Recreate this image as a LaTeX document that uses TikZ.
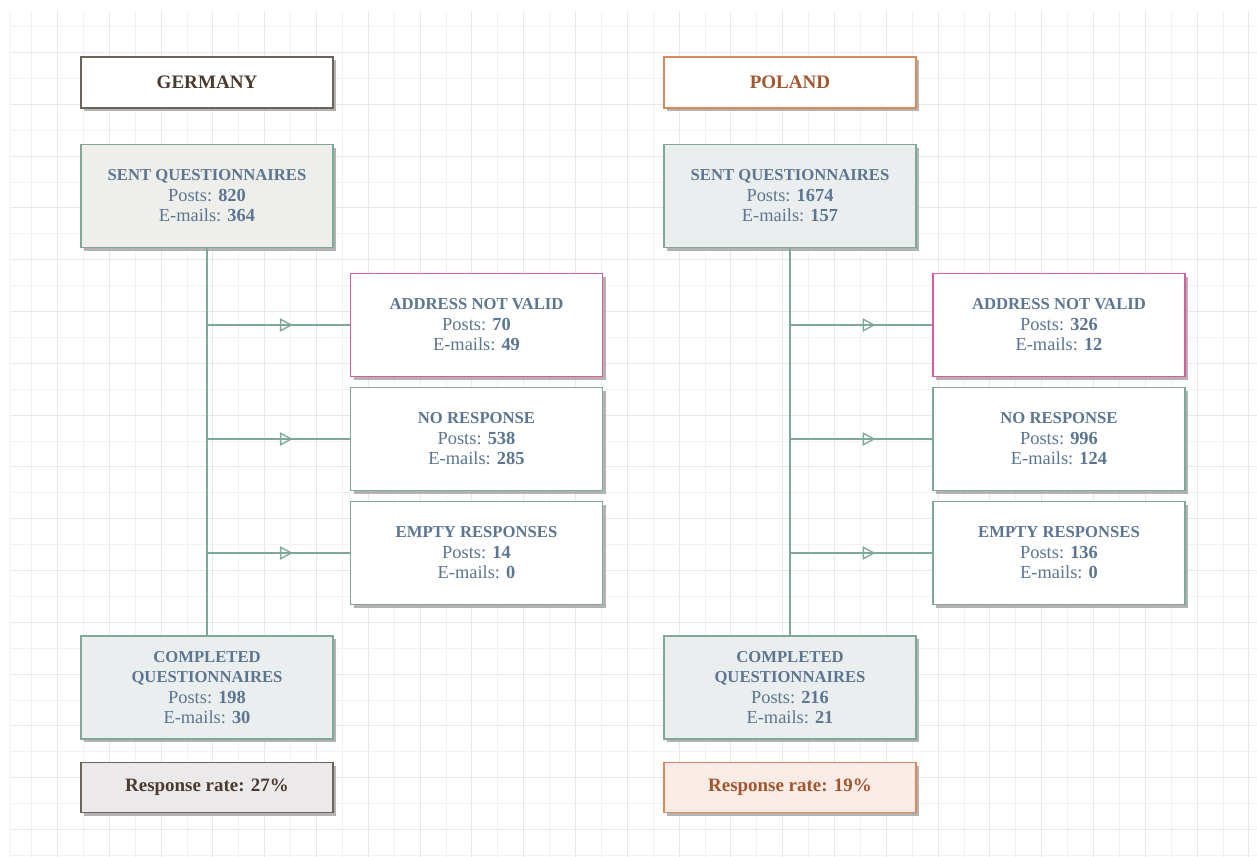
\documentclass[tikz,border=0pt]{standalone}
\usepackage{fontspec}
\setmainfont{Liberation Serif}
\usetikzlibrary{arrows.meta,decorations.markings,shadows}
\definecolor{gridlight}{HTML}{F2F2F2}
\definecolor{griddark}{HTML}{E8E8E8}
\definecolor{tealline}{HTML}{7FA89A}
\definecolor{slatetext}{HTML}{5B7592}
\definecolor{gerborder}{HTML}{6E625C}
\definecolor{gertext}{HTML}{4A3A30}
\definecolor{polborder}{HTML}{D98A5C}
\definecolor{poltext}{HTML}{A3562D}
\definecolor{pinkborder}{HTML}{D95A9E}
\definecolor{sentgerfill}{HTML}{EEEEEA}
\definecolor{sentpolfill}{HTML}{EBEEEE}
\definecolor{gerratefill}{HTML}{EBE9E9}
\definecolor{polratefill}{HTML}{F9EBE6}
\newcommand\boxtitle[1]{{\fontsize{12.5}{15.4}\selectfont\bfseries #1}}
\tikzset{
  sh/.style={drop shadow={shadow xshift=2.3pt, shadow yshift=-2.3pt, fill=black!33, opacity=0.9}},
  basebox/.style={rectangle, sh, line width=1.1pt, minimum width=189pt, align=center, inner sep=2pt, font=\fontsize{13.8}{15.4}\selectfont},
  header/.style={basebox, fill=white, minimum height=38.25pt, font=\fontsize{14.3}{18}\selectfont\bfseries},
  gerhead/.style={header, draw=gerborder, text=gertext},
  polhead/.style={header, draw=polborder, text=poltext},
  bigbox/.style={basebox, draw=tealline, text=slatetext, minimum height=77.25pt},
  sentger/.style={bigbox, fill=sentgerfill},
  sentpol/.style={bigbox, fill=sentpolfill},
  sidebox/.style={bigbox, fill=white},
  invalidbox/.style={bigbox, fill=white, draw=pinkborder},
  ratebox/.style={basebox, minimum height=37.5pt, font=\fontsize{14.2}{16}\selectfont\bfseries},
  gerrate/.style={ratebox, fill=gerratefill, draw=gerborder, text=gertext},
  polrate/.style={ratebox, fill=polratefill, draw=polborder, text=poltext},
  trunk/.style={draw=tealline, line width=1.35pt},
  midarrow/.style={trunk, postaction={decorate, decoration={markings, mark=at position 0.6 with {\arrow{Triangle[open, length=9.5pt, width=10pt, line width=1pt]}}}}}
}
\begin{document}
\begin{tikzpicture}[x=0.75pt, y=-0.75pt]
\useasboundingbox (0,0) rectangle (1257,857);
\fill[white] (0,0) rectangle (1257,857);
% grid
\foreach \k in {-1,...,46} {
  \pgfmathsetmacro{\xx}{57.5+25.9*\k}
  \pgfmathtruncatemacro{\gpar}{mod(\k+2,2)}
  \ifnum\gpar=0 \draw[griddark, line width=0.75pt] (\xx,11) -- (\xx,857);
  \else \draw[gridlight, line width=0.75pt] (\xx,11) -- (\xx,857); \fi
}
\draw[gridlight, line width=0.75pt] (10.5,11) -- (10.5,857);
\foreach \k in {-1,...,31} {
  \pgfmathsetmacro{\yy}{52.5+25.9*\k}
  \pgfmathtruncatemacro{\gpar}{mod(\k+2,2)}
  \ifnum\gpar=0 \draw[griddark, line width=0.75pt] (10,\yy) -- (1257,\yy);
  \else \draw[gridlight, line width=0.75pt] (10,\yy) -- (1257,\yy); \fi
}

% Germany
\node[gerhead] (gh) at (207,82.5) {GERMANY};
\node[sentger] (gs) at (207,196) {\boxtitle{SENT QUESTIONNAIRES}\\Posts: \textbf{820}\\E-mails: \textbf{364}};
\node[invalidbox] (ga) at (476.5,325) {\boxtitle{ADDRESS NOT VALID}\\Posts: \textbf{70}\\E-mails: \textbf{49}};
\node[sidebox] (gn) at (476.5,439) {\boxtitle{NO RESPONSE}\\Posts: \textbf{538}\\E-mails: \textbf{285}};
\node[sidebox] (ge) at (476.5,553) {\boxtitle{EMPTY RESPONSES}\\Posts: \textbf{14}\\E-mails: \textbf{0}};
\node[sentpol] (gc) at (207,687.5) {\boxtitle{COMPLETED}\\\boxtitle{QUESTIONNAIRES}\\Posts: \textbf{198}\\E-mails: \textbf{30}};
\node[gerrate] (gr) at (207,787.5) {Response rate: 27\%};
\draw[trunk] (gs.south) -- (gc.north);
\coordinate (gja) at (gs.south |- ga.west);
\coordinate (gjn) at (gs.south |- gn.west);
\coordinate (gje) at (gs.south |- ge.west);
\draw[midarrow] (gja) -- (ga.west);
\draw[midarrow] (gjn) -- (gn.west);
\draw[midarrow] (gje) -- (ge.west);

% Poland
\node[polhead] (ph) at (790,82.5) {POLAND};
\node[sentpol] (ps) at (790,196) {\boxtitle{SENT QUESTIONNAIRES}\\Posts: \textbf{1674}\\E-mails: \textbf{157}};
\node[invalidbox] (pa) at (1059,325) {\boxtitle{ADDRESS NOT VALID}\\Posts: \textbf{326}\\E-mails: \textbf{12}};
\node[sidebox] (pn) at (1059,439) {\boxtitle{NO RESPONSE}\\Posts: \textbf{996}\\E-mails: \textbf{124}};
\node[sidebox] (pe) at (1059,553) {\boxtitle{EMPTY RESPONSES}\\Posts: \textbf{136}\\E-mails: \textbf{0}};
\node[sentpol] (pc) at (790,687.5) {\boxtitle{COMPLETED}\\\boxtitle{QUESTIONNAIRES}\\Posts: \textbf{216}\\E-mails: \textbf{21}};
\node[polrate] (pr) at (790,787.5) {Response rate: 19\%};
\draw[trunk] (ps.south) -- (pc.north);
\coordinate (pja) at (ps.south |- pa.west);
\coordinate (pjn) at (ps.south |- pn.west);
\coordinate (pje) at (ps.south |- pe.west);
\draw[midarrow] (pja) -- (pa.west);
\draw[midarrow] (pjn) -- (pn.west);
\draw[midarrow] (pje) -- (pe.west);
\end{tikzpicture}
\end{document}
